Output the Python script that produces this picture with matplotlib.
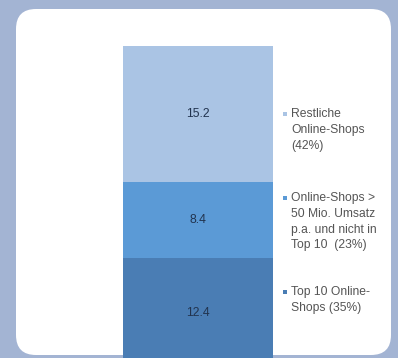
import matplotlib.pyplot as plt
from matplotlib.patches import FancyBboxPatch, Rectangle
from matplotlib.transforms import IdentityTransform

# data (stacked from bottom to top)
segments = ['Top 10 Online-\nShops (35%)',
            'Online-Shops >\n50 Mio. Umsatz\np.a. und nicht in\nTop 10  (23%)',
            'Restliche\nOnline-Shops\n(42%)']
values = [12.4, 8.4, 15.2]
colors = ['#4a7db4', '#5b9ad6', '#aac4e4']

plt.rcParams['font.family'] = ['Liberation Sans', 'DejaVu Sans']

fig = plt.figure(figsize=(3.98, 3.58), dpi=100)
fig.patch.set_facecolor('#a3b4d3')

# white rounded card behind the chart (pixel coords)
card = FancyBboxPatch((16, 3), 375, 346, boxstyle='round,pad=0,rounding_size=20',
                      transform=IdentityTransform(), facecolor='white',
                      edgecolor='none', zorder=-1)
fig.add_artist(card)

# axes positioned so the bar runs off the bottom edge like the screenshot
ax = fig.add_axes([123 / 398, -11 / 358, 150 / 398, 323 / 358])
ax.set_xlim(-0.5, 0.5)
ax.set_ylim(0, sum(values))
ax.axis('off')

bottom = 0
for val, col in zip(values, colors):
    bars = ax.bar(0, val, width=1, bottom=bottom, color=col, linewidth=0)
    ax.bar_label(bars, labels=[f'{val:.1f}'], label_type='center',
                 fontsize=8.8, color='#22344f')
    bottom += val

# legend, written by hand to follow the original placement
legend_tops = [292, 198, 114]
for label, col, y in zip(segments, colors, legend_tops):
    fig.text(291 / 398, 1 - (y - 6) / 358, label, fontsize=8.7, color='#555555',
             va='top', ha='left', linespacing=1.42)
    fig.add_artist(Rectangle((283, 358 - y - 2), 4, 4, transform=IdentityTransform(),
                             facecolor=col, edgecolor='none'))

fig.savefig('out.png', dpi=100, facecolor=fig.get_facecolor())
